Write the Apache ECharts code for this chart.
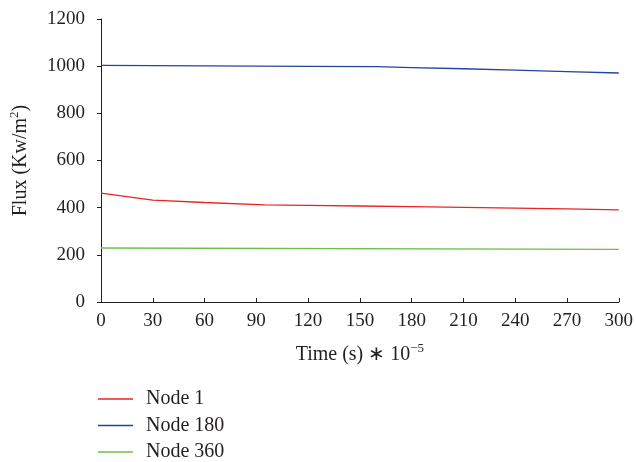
<!DOCTYPE html>
<html><head><meta charset="utf-8">
<script src="https://cdn.jsdelivr.net/npm/echarts@6/dist/echarts.min.js"></script>
<style>html,body{margin:0;padding:0;background:#fff}#c{width:636px;height:462px}</style>
</head><body><div id="c"></div>
<script>
const seriesNames = ['Node 1', 'Node 180', 'Node 360'];
const node1Time = [0, 30, 60, 95, 120, 150, 180, 210, 240, 270, 300];
const node1Flux = [462, 432, 422, 412, 410, 407, 404, 401, 398, 395, 391];
const node180Time = [0, 30, 60, 90, 120, 160, 180, 210, 240, 270, 300];
const node180Flux = [1003, 1002, 1001, 1000, 999, 998, 994, 989, 983, 977, 971];
const node360Time = [0, 300];
const node360Flux = [229, 223];
const xTicks = [0, 30, 60, 90, 120, 150, 180, 210, 240, 270, 300];
const yTicks = [0, 200, 400, 600, 800, 1000, 1200];
const colors = ['#ee2222', '#2542a6', '#6cc04a'];

const pair = (t, v) => t.map((x, i) => [x, v[i]]);
const font = 'Liberation Serif';
const txt = '#231f20';
const chart = echarts.init(document.getElementById('c'));
chart.setOption({
  animation: false,
  textStyle: { fontFamily: font },
  grid: { left: 98.5, right: 16, top: 19, bottom: 160 },
  legend: {
    orient: 'vertical', left: 98, top: 389, height: 73, padding: 0,
    itemWidth: 35, itemHeight: 14, itemGap: 6.5,
    icon: 'path://M0,0H35V1.5H0Z',
    textStyle: { fontFamily: font, fontSize: 20, lineHeight: 20, color: txt, padding: [0,0,0,8] },
    data: seriesNames
  },
  xAxis: {
    type: 'value', min: xTicks[0], max: xTicks[xTicks.length-1], interval: 30,
    name: '{n|Time (s) ∗ 10}{s|−5}', nameLocation: 'middle', nameGap: 40,
    nameTextStyle: { rich: { n: { fontFamily: font, fontSize: 20, color: txt }, s: { fontFamily: font, fontSize: 13, color: txt, verticalAlign: 'top', padding: [0,0,12,0] } } },
    axisLine: { lineStyle: { color: txt, width: 1 } },
    axisTick: { show: true, inside: true, length: 4, lineStyle: { color: txt } },
    axisLabel: { fontFamily: font, fontSize: 19, color: txt, margin: 10 },
    splitLine: { show: false }
  },
  yAxis: {
    type: 'value', min: yTicks[0], max: yTicks[yTicks.length-1], interval: 200,
    name: '{n|Flux (Kw/m}{s|2}{n|)}', nameLocation: 'middle', nameGap: 68, nameRotate: 90,
    nameTextStyle: { rich: { n: { fontFamily: font, fontSize: 20, color: txt }, s: { fontFamily: font, fontSize: 13, color: txt, verticalAlign: 'top', padding: [0,0,12,0] } } },
    axisLine: { show: true, lineStyle: { color: txt, width: 1 } },
    axisTick: { show: true, length: 4, lineStyle: { color: txt } },
    axisLabel: { fontFamily: font, fontSize: 19, color: txt, margin: 16, formatter: v => String(v) },
    splitLine: { show: false }
  },
  series: [
    { name: seriesNames[0], type: 'line', data: pair(node1Time, node1Flux), showSymbol: false, lineStyle: { color: colors[0], width: 1.3 }, itemStyle: { color: colors[0] } },
    { name: seriesNames[1], type: 'line', data: pair(node180Time, node180Flux), showSymbol: false, lineStyle: { color: colors[1], width: 1.3 }, itemStyle: { color: colors[1] } },
    { name: seriesNames[2], type: 'line', data: pair(node360Time, node360Flux), showSymbol: false, lineStyle: { color: colors[2], width: 1.3 }, itemStyle: { color: colors[2] } }
  ]
});
</script></body></html>
